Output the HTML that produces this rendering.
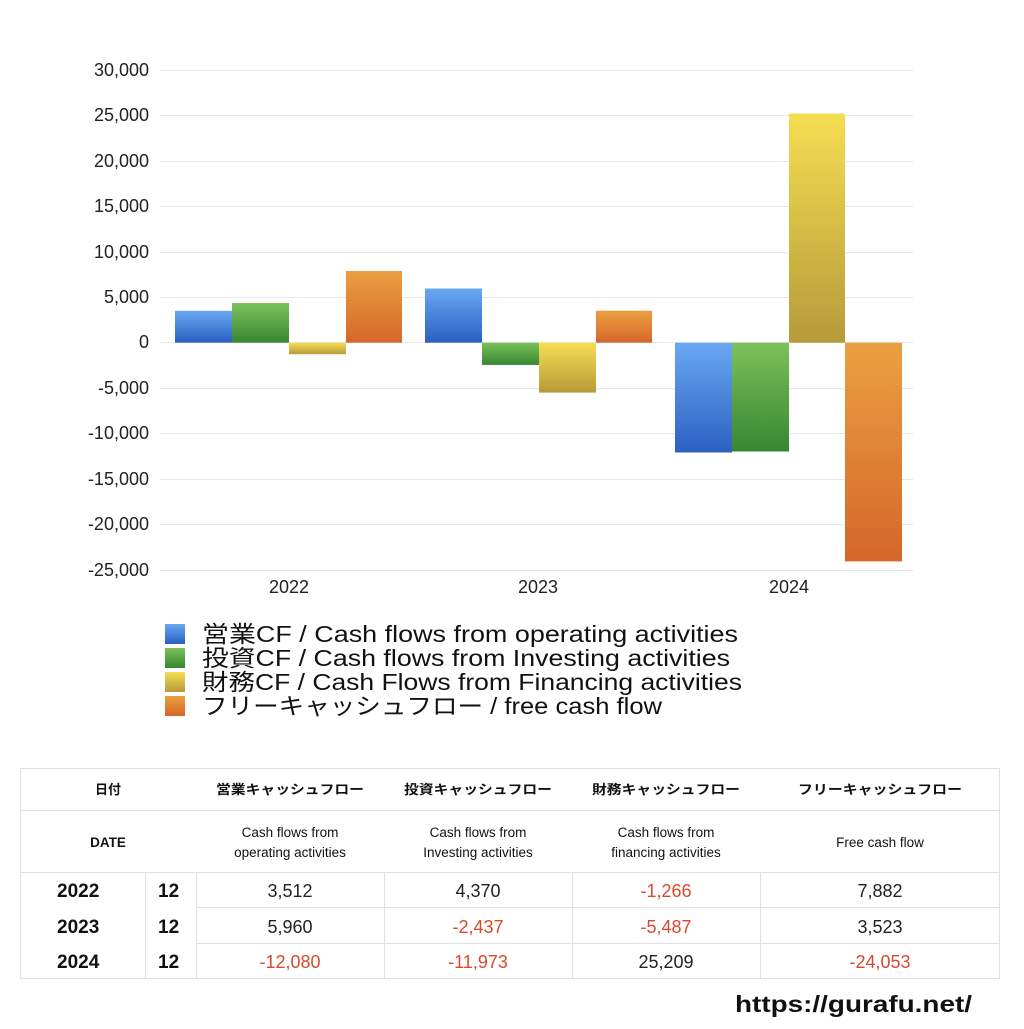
<!DOCTYPE html>
<html><head><meta charset="utf-8"><style>
body{margin:0;background:#fff;}
svg text{font-family:"Liberation Sans","Noto Sans CJK JP",sans-serif;}
</style></head><body>
<svg width="1024" height="1024" xmlns="http://www.w3.org/2000/svg">
<defs>
<linearGradient id="b" x1="0" y1="0" x2="0" y2="1"><stop offset="0" stop-color="#6aa8f2"/><stop offset="1" stop-color="#2a60c2"/></linearGradient>
<linearGradient id="g" x1="0" y1="0" x2="0" y2="1"><stop offset="0" stop-color="#7cc25a"/><stop offset="1" stop-color="#378632"/></linearGradient>
<linearGradient id="y" x1="0" y1="0" x2="0" y2="1"><stop offset="0" stop-color="#f6de52"/><stop offset="1" stop-color="#b79a3a"/></linearGradient>
<linearGradient id="o" x1="0" y1="0" x2="0" y2="1"><stop offset="0" stop-color="#e9a040"/><stop offset="1" stop-color="#d6662a"/></linearGradient>
</defs>
<g stroke="#e6e6e6" stroke-width="1">
<line x1="160" x2="913" y1="70.5" y2="70.5"/><line x1="160" x2="913" y1="115.5" y2="115.5"/>
<line x1="160" x2="913" y1="161.5" y2="161.5"/><line x1="160" x2="913" y1="206.5" y2="206.5"/>
<line x1="160" x2="913" y1="252.5" y2="252.5"/><line x1="160" x2="913" y1="297.5" y2="297.5"/>
<line x1="160" x2="913" y1="342.5" y2="342.5"/><line x1="160" x2="913" y1="388.5" y2="388.5"/>
<line x1="160" x2="913" y1="433.5" y2="433.5"/><line x1="160" x2="913" y1="479.5" y2="479.5"/>
<line x1="160" x2="913" y1="524.5" y2="524.5"/><line x1="160" x2="913" y1="570.5" y2="570.5"/>
</g>
<g font-size="18" fill="#222" text-anchor="end">
<text x="149" y="76">30,000</text><text x="149" y="121">25,000</text><text x="149" y="167">20,000</text>
<text x="149" y="212">15,000</text><text x="149" y="258">10,000</text><text x="149" y="303">5,000</text>
<text x="149" y="348">0</text><text x="149" y="394">-5,000</text><text x="149" y="439">-10,000</text>
<text x="149" y="485">-15,000</text><text x="149" y="530">-20,000</text><text x="149" y="576">-25,000</text>
</g>
<rect x="175" y="310.8" width="57" height="31.9" fill="url(#b)"/>
<rect x="232" y="303" width="57" height="39.7" fill="url(#g)"/>
<rect x="289" y="342.7" width="57" height="11.5" fill="url(#y)"/>
<rect x="346" y="271" width="56" height="71.7" fill="url(#o)"/>
<rect x="425" y="288.5" width="57" height="54.2" fill="url(#b)"/>
<rect x="482" y="342.7" width="57" height="22.2" fill="url(#g)"/>
<rect x="539" y="342.7" width="57" height="49.9" fill="url(#y)"/>
<rect x="596" y="310.7" width="56" height="32" fill="url(#o)"/>
<rect x="675" y="342.7" width="57" height="109.8" fill="url(#b)"/>
<rect x="732" y="342.7" width="57" height="108.8" fill="url(#g)"/>
<rect x="789" y="113.5" width="56" height="229.2" fill="url(#y)"/>
<rect x="845" y="342.7" width="57" height="218.7" fill="url(#o)"/>
<g font-size="18" fill="#222" text-anchor="middle">
<text x="289" y="593">2022</text><text x="538" y="593">2023</text><text x="789" y="593">2024</text>
</g>
<rect x="165" y="624" width="20" height="20" fill="url(#b)"/>
<rect x="165" y="648" width="20" height="20" fill="url(#g)"/>
<rect x="165" y="672" width="20" height="20" fill="url(#y)"/>
<rect x="165" y="696" width="20" height="20" fill="url(#o)"/>
<g font-size="23" fill="#111" lengthAdjust="spacingAndGlyphs">
<text x="202" y="642" textLength="536" lengthAdjust="spacingAndGlyphs">営業CF / Cash flows from operating activities</text>
<text x="202" y="666" textLength="528" lengthAdjust="spacingAndGlyphs">投資CF / Cash flows from Investing activities</text>
<text x="202" y="690" textLength="540" lengthAdjust="spacingAndGlyphs">財務CF / Cash Flows from Financing activities</text>
<text x="202" y="714" textLength="460" lengthAdjust="spacingAndGlyphs">フリーキャッシュフロー / free cash flow</text>
</g>
<g stroke="#e0e0e0" stroke-width="1" fill="none">
<rect x="20.5" y="768.5" width="979" height="210"/>
<line x1="20" x2="1000" y1="810.5" y2="810.5"/>
<line x1="20" x2="1000" y1="872.5" y2="872.5"/>
<line x1="196" x2="1000" y1="907.5" y2="907.5"/>
<line x1="196" x2="1000" y1="943.5" y2="943.5"/>
<line x1="145.5" x2="145.5" y1="872" y2="978"/>
<line x1="196.5" x2="196.5" y1="872" y2="978"/>
<line x1="384.5" x2="384.5" y1="872" y2="978"/>
<line x1="572.5" x2="572.5" y1="872" y2="978"/>
<line x1="760.5" x2="760.5" y1="872" y2="978"/>
</g>
<g font-size="13" font-weight="bold" fill="#111" text-anchor="middle">
<text x="108" y="794">日付</text>
<text x="290" y="794" textLength="148" lengthAdjust="spacingAndGlyphs">営業キャッシュフロー</text>
<text x="478" y="794" textLength="148" lengthAdjust="spacingAndGlyphs">投資キャッシュフロー</text>
<text x="666" y="794" textLength="148" lengthAdjust="spacingAndGlyphs">財務キャッシュフロー</text>
<text x="880" y="794" textLength="164" lengthAdjust="spacingAndGlyphs">フリーキャッシュフロー</text>
</g>
<g font-size="13.5" fill="#111" text-anchor="middle">
<text x="108" y="847" font-weight="bold">DATE</text>
<text x="290" y="837">Cash flows from</text><text x="290" y="857">operating activities</text>
<text x="478" y="837">Cash flows from</text><text x="478" y="857">Investing activities</text>
<text x="666" y="837">Cash flows from</text><text x="666" y="857">financing activities</text>
<text x="880" y="847">Free cash flow</text>
</g>
<g font-size="19" font-weight="bold" fill="#111">
<text x="57" y="897">2022</text><text x="57" y="933">2023</text><text x="57" y="968">2024</text>
<text x="158" y="897">12</text><text x="158" y="933">12</text><text x="158" y="968">12</text>
</g>
<g font-size="18" text-anchor="middle" fill="#222">
<text x="290" y="897">3,512</text><text x="478" y="897">4,370</text><text x="666" y="897" fill="#d9492e">-1,266</text><text x="880" y="897">7,882</text>
<text x="290" y="933">5,960</text><text x="478" y="933" fill="#d9492e">-2,437</text><text x="666" y="933" fill="#d9492e">-5,487</text><text x="880" y="933">3,523</text>
<text x="290" y="968" fill="#d9492e">-12,080</text><text x="478" y="968" fill="#d9492e">-11,973</text><text x="666" y="968">25,209</text><text x="880" y="968" fill="#d9492e">-24,053</text>
</g>
<text x="735" y="1012" font-size="23" font-weight="bold" fill="#111" textLength="237" lengthAdjust="spacingAndGlyphs">https://gurafu.net/</text>
</svg>
</body></html>
